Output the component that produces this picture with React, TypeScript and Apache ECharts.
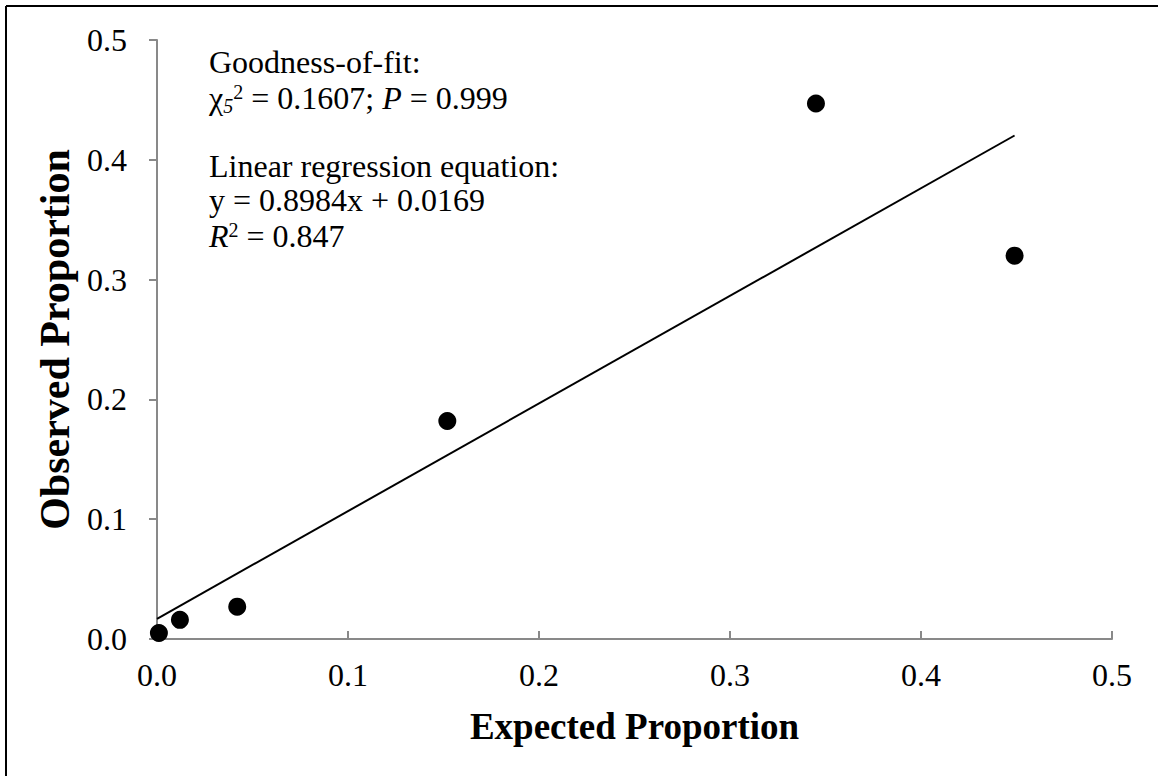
import React, { useEffect, useRef } from "react";
import * as echarts from "echarts";

const expected = [0.001, 0.012, 0.042, 0.152, 0.345, 0.449];
const observed = [0.005, 0.016, 0.027, 0.182, 0.447, 0.32];
const slope = 0.8984;
const intercept = 0.0169;
const fitRange = [0, 0.449];
const xTitle = "Expected Proportion";
const yTitle = "Observed Proportion";
const noteLines = [
  "Goodness-of-fit:",
  "{t|χ}{sub|5}{sup|2}{t| = 0.1607; }{i|P}{t| = 0.999}",
  "Linear regression equation:",
  "y = 0.8984x + 0.0169",
  "{i|R}{sup|2}{t| = 0.847}",
];
const noteTops = [46, 82, 150, 184, 220];

const FONT = "Liberation Serif";

export default function App() {
  const ref = useRef<HTMLDivElement>(null);
  useEffect(() => {
    if (!ref.current) return;
    const chart = echarts.init(ref.current, null, { renderer: "svg" });
    const pts = expected.map((x, i) => [x, observed[i]]);
    const fit = fitRange.map((x) => [x, slope * x + intercept]);
    const axisLine = { lineStyle: { color: "#898989", width: 2 } };
    const tok = { fontFamily: FONT, fontSize: 32, color: "#000", lineHeight: 32, fontWeight: "normal" };
    const rich = {
      t: { ...tok, verticalAlign: "middle" },
      i: { ...tok, fontStyle: "italic", verticalAlign: "middle" },
      sub: {
        fontFamily: FONT,
        fontSize: 20,
        fontStyle: "italic",
        color: "#000",
        verticalAlign: "middle",
        lineHeight: 20,
        padding: [16, 0, 0, 0],
      },
      sup: { fontFamily: FONT, fontSize: 20, color: "#000", verticalAlign: "top", lineHeight: 26 },
    };
    chart.setOption({
      animation: false,
      backgroundColor: "#fff",
      textStyle: { fontFamily: FONT },
      title: noteLines.map((txt, k) => ({
        text: txt,
        left: 209,
        top: noteTops[k],
        padding: 0,
        textStyle: { ...tok, rich },
      })),
      grid: { left: 157, right: 46, top: 40, bottom: 137 },
      xAxis: {
        type: "value",
        min: 0,
        max: 0.5,
        interval: 0.1,
        name: xTitle,
        nameLocation: "middle",
        nameGap: 69,
        nameTextStyle: { fontFamily: FONT, fontSize: 37, fontWeight: "bold", color: "#000" },
        axisLine: { ...axisLine, onZero: false },
        axisTick: { show: true, inside: true, length: 8, lineStyle: { color: "#898989", width: 2 } },
        axisLabel: { fontFamily: FONT, fontSize: 32, color: "#000", margin: 20, formatter: (v: number) => v.toFixed(1) },
        splitLine: { show: false },
      },
      yAxis: {
        type: "value",
        min: 0,
        max: 0.5,
        interval: 0.1,
        name: yTitle,
        nameLocation: "middle",
        nameGap: 71,
        nameRotate: 90,
        nameTextStyle: { fontFamily: FONT, fontSize: 42, fontWeight: "bold", color: "#000" },
        axisLine: { ...axisLine, onZero: false },
        axisTick: { show: true, inside: false, length: 8, lineStyle: { color: "#898989", width: 2 } },
        axisLabel: { fontFamily: FONT, fontSize: 32, color: "#000", margin: 30, formatter: (v: number) => v.toFixed(1) },
        splitLine: { show: false },
      },
      series: [
        {
          type: "line",
          data: fit,
          showSymbol: false,
          symbol: "none",
          lineStyle: { color: "#000", width: 2 },
          silent: true,
          z: 1,
        },
        {
          type: "scatter",
          data: pts,
          symbol: "circle",
          symbolSize: 18,
          itemStyle: { color: "#000", opacity: 1 },
          z: 2,
        },
      ],
      graphic: [
        { type: "line", shape: { x1: 6, y1: 6, x2: 1158, y2: 6 }, style: { stroke: "#000", lineWidth: 2 } },
        { type: "line", shape: { x1: 6, y1: 6, x2: 6, y2: 776 }, style: { stroke: "#000", lineWidth: 2 } },
      ],
    });
    return () => chart.dispose();
  }, []);
  return (
    <div
      ref={ref}
      style={{ position: "fixed", left: 0, top: 0, width: 1158, height: 776, background: "#fff" }}
    />
  );
}
